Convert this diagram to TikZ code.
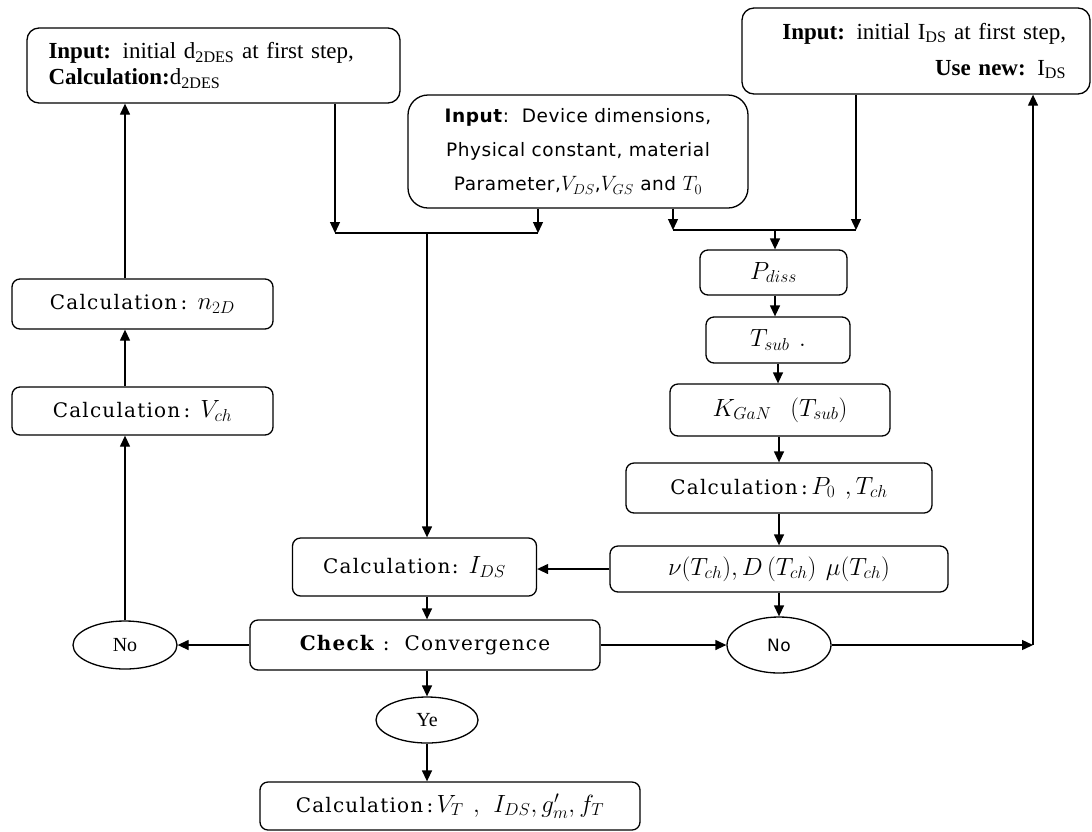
\documentclass[tikz,border=0pt]{standalone}
\usepackage{fontspec}
\setmainfont{Liberation Serif}
\newfontfamily\calcfont[LetterSpace=6]{DejaVu Serif}
\newfontfamily\sansf[LetterSpace=3]{DejaVu Sans}
\usetikzlibrary{arrows.meta,shapes.geometric}
\newcommand{\mm}[1]{{\fontsize{25}{28}\selectfont$#1$}}
\newcommand{\ms}[1]{{\fontsize{22}{28}\selectfont$#1$}}
\begin{document}
\begin{tikzpicture}[x=1pt,y=-1pt,
  box/.style={draw, line width=1.3pt, rounded corners=8pt, inner sep=0pt, align=center, font=\calcfont\fontsize{20}{24}\selectfont},
  inbox/.style={box, rounded corners=12pt, font=\rmfamily\fontsize{23}{26}\selectfont},
  oval/.style={draw, ellipse, line width=1.3pt, inner sep=0pt, font=\rmfamily\fontsize{20}{24}\selectfont},
  arr/.style={line width=1.3pt, -{Triangle[length=11pt,width=10pt]}},
  ln/.style={line width=1.3pt}]
\useasboundingbox (0,0) rectangle (1092,831);

% top boxes
\node[inbox, minimum width=373pt, minimum height=75pt, text width=330pt, align=left] (b1) at (213.5,65.5)
  {\textbf{Input:} initial d\textsubscript{2DES} at first step,\\ \textbf{Calculation:}d\textsubscript{2DES}};
\node[box, rounded corners=20pt, minimum width=340pt, minimum height=113pt, font=\sansf\fontsize{18.5}{34}\selectfont] (b2) at (578,151.5)
  {\textbf{Input}:\ \ Device dimensions,\\ Physical constant, material\\ Parameter,\ms{V_{DS}},\ms{V_{GS}} and \ms{T_0}};
\node[inbox, minimum width=348pt, minimum height=86pt, text width=300pt, align=right, font=\rmfamily\fontsize{23}{36}\selectfont] (b3) at (916,51)
  {\textbf{Input:} initial I\textsubscript{DS} at first step,\\ \textbf{Use new:} I\textsubscript{DS}};

% right column
\node[box, minimum width=147pt, minimum height=45pt] (pd) at (773.5,272.5) {\mm{P_{diss}}};
\node[box, minimum width=144pt, minimum height=46pt] (ts) at (778,340) {\mm{T_{sub}\ .}};
\node[box, minimum width=220pt, minimum height=52pt] (kg) at (780,410) {\mm{K_{GaN}\ \ (T_{sub})}};
\node[box, minimum width=306pt, minimum height=50pt] (p0) at (779,488) {Calculation\,:\,\mm{P_0\ ,T_{ch}}};
\node[box, minimum width=338pt, minimum height=46pt] (nu) at (779,569) {\mm{\nu(T_{ch}), D\,(T_{ch})\ \mu(T_{ch})}};
\node[oval, minimum width=104pt, minimum height=56pt, font=\sansf\fontsize{17}{20}\selectfont] (noR) at (779,645) {No};

% centre column
\node[box, minimum width=244pt, minimum height=58pt] (ids) at (414.5,567) {Calculation: \mm{I_{DS}}};
\node[box, minimum width=350pt, minimum height=50pt] (chk) at (425,645) {\textbf{Check}\ :\ \ Convergence};
\node[oval, minimum width=102pt, minimum height=46pt] (ye) at (427,720) {Ye};
\node[box, minimum width=380pt, minimum height=48pt] (bot) at (450,806) {Calculation\,:\,\mm{V_T\ ,\ I_{DS}, g'_m, f_T}};

% left column
\node[box, minimum width=261pt, minimum height=50pt] (n2d) at (142.5,304) {Calculation\,: \mm{n_{2D}}};
\node[box, minimum width=261pt, minimum height=48pt] (vch) at (142.5,411) {Calculation\,: \mm{V_{ch}}};
\node[oval, minimum width=104pt, minimum height=48pt] (noL) at (125,645) {No};

% junctions
\coordinate (j1) at (335,233);
\coordinate (j2) at (538,233);
\coordinate (j3) at (427,233);
\coordinate (k1) at (673,230);
\coordinate (k2) at (856,230);
\coordinate (k3) at (775,230);
\coordinate (c1) at (1033,645);

% connectors
\draw[arr] (b1.south -| j1) -- (j1);
\draw[arr] (b2.south -| j2) -- (j2);
\draw[ln] (j1) -- (j2);
\draw[arr] (j3) -- (ids.north -| j3);
\draw[arr] (b2.south -| k1) -- (k1);
\draw[arr] (b3.south -| k2) -- (k2);
\draw[ln] (k1) -- (k2);
\draw[arr] (k3) -- (pd.north -| k3);
\draw[arr] (pd.south -| k3) -- (ts.north -| k3);
\draw[arr] (ts.south) -- (kg.north -| ts.south);
\draw[arr] (kg.south -| noR) -- (p0.north -| noR);
\draw[arr] (p0.south -| noR) -- (nu.north -| noR);
\draw[arr] (nu.south -| noR) -- (noR.north);
\draw[arr] (nu.west) -- (nu.west -| ids.east);
\draw[arr] (ids.south -| j3) -- (chk.north -| j3);
\draw[arr] (chk.south -| j3) -- (ye.north);
\draw[arr] (ye.south) -- (bot.north -| ye.south);
\draw[arr] (chk.east) -- (noR.west);
\draw[arr] (noR.east) -- (c1);
\draw[arr] (c1) -- (b3.south -| c1);
\draw[arr] (chk.west) -- (noL.east);
\draw[arr] (noL.north) -- (vch.south -| noL);
\draw[arr] (vch.north -| noL) -- (n2d.south -| noL);
\draw[arr] (n2d.north -| noL) -- (b1.south -| noL);
\end{tikzpicture}
\end{document}
